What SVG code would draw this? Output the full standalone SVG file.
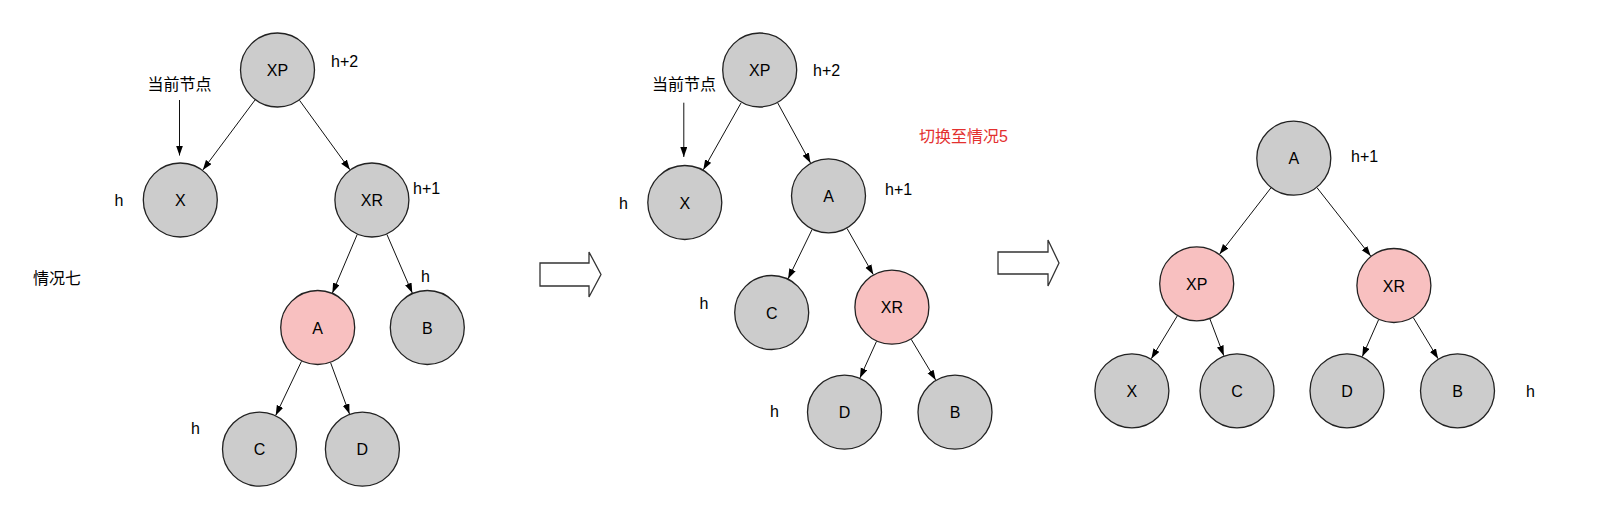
<svg xmlns="http://www.w3.org/2000/svg" width="1620" height="518" viewBox="0 0 1620 518">
<style>
  .n circle { stroke: #222; stroke-width: 1.3; }
  .g circle { fill: #cccccc; }
  .p circle { fill: #f8c0c0; }
  text { font-family: "Liberation Sans", Arial, "Noto Sans CJK SC", sans-serif; font-size: 16px; fill: #000; }
  .n text { text-anchor: middle; }
  .c { text-anchor: middle; }
  .red { fill: #e3302f; }
  .e line { stroke: #111; stroke-width: 1; fill: none; marker-end: url(#ah); }
  .big { fill: #fff; stroke: #333; stroke-width: 1.3; stroke-linejoin: miter; }
</style>
<defs>
  <marker id="ah" markerUnits="userSpaceOnUse" markerWidth="11" markerHeight="8" refX="10" refY="3.5" orient="auto">
    <path d="M0,0 L10,3.5 L0,7 z" fill="#000"/>
  </marker>
</defs>
<rect width="1620" height="518" fill="#fff"/>

<g id="connectors" class="e">
  <line x1="255" y1="100" x2="202.8" y2="170"/>
  <line x1="299.5" y1="100.3" x2="349.9" y2="169.7"/>
  <line x1="357.2" y1="234.5" x2="332.4" y2="293"/>
  <line x1="386.9" y1="234.4" x2="412.3" y2="293.1"/>
  <line x1="301.5" y1="361.3" x2="275.7" y2="415.4"/>
  <line x1="330.6" y1="362.7" x2="349.5" y2="414"/>
  <line x1="179.5" y1="100" x2="179.5" y2="155.5"/>

  <line x1="741.2" y1="102.7" x2="703.3" y2="169.8"/>
  <line x1="777.7" y1="102.9" x2="810.5" y2="162.9"/>
  <line x1="812.1" y1="229.5" x2="788.1" y2="278.8"/>
  <line x1="847" y1="228.4" x2="873.3" y2="274.6"/>
  <line x1="876.5" y1="341.4" x2="859.9" y2="378"/>
  <line x1="911.2" y1="339.3" x2="935.7" y2="380.1"/>
  <line x1="683.8" y1="102.7" x2="683.8" y2="157"/>

  <line x1="1270.9" y1="187.9" x2="1219.6" y2="254.1"/>
  <line x1="1317" y1="187.7" x2="1370.7" y2="256"/>
  <line x1="1177.3" y1="315.9" x2="1151.3" y2="358.7"/>
  <line x1="1209.9" y1="318.9" x2="1223.8" y2="355.7"/>
  <line x1="1378.6" y1="319.7" x2="1362.3" y2="356.6"/>
  <line x1="1413.3" y1="317.6" x2="1438.1" y2="358.7"/>
</g>

<g id="bigarrow1"><polygon class="big" points="540,263 589,263 589,252 601,274.5 589,297 589,286 540,286"/></g>
<g id="bigarrow2"><polygon class="big" points="998,252 1048,252 1048,240 1059,263 1048,286 1048,274 998,274"/></g>

<!-- Tree 1 -->
<g id="t1-XP" class="n g"><circle cx="277.5" cy="70" r="37"/><text x="277.5" y="76">XP</text></g>
<g id="t1-X" class="n g"><circle cx="180.3" cy="200" r="37"/><text x="180.3" y="206">X</text></g>
<g id="t1-XR" class="n g"><circle cx="371.9" cy="200" r="37"/><text x="371.9" y="206">XR</text></g>
<g id="t1-A" class="n p"><circle cx="317.7" cy="327.5" r="37"/><text x="317.7" y="333.5">A</text></g>
<g id="t1-B" class="n g"><circle cx="427.3" cy="327.5" r="37"/><text x="427.3" y="333.5">B</text></g>
<g id="t1-C" class="n g"><circle cx="259.5" cy="449.2" r="37"/><text x="259.5" y="455.2">C</text></g>
<g id="t1-D" class="n g"><circle cx="362.4" cy="449.2" r="37"/><text x="362.4" y="455.2">D</text></g>
<g id="t1-labels">
  <text x="331" y="67">h+2</text>
  <text class="c" x="179.5" y="90">当前节点</text>
  <text class="c" x="119" y="206">h</text>
  <text x="413" y="194">h+1</text>
  <text x="33" y="284">情况七</text>
  <text class="c" x="425.5" y="281.5">h</text>
  <text class="c" x="195.5" y="434">h</text>
</g>

<!-- Tree 2 -->
<g id="t2-XP" class="n g"><circle cx="759.7" cy="70" r="37"/><text x="759.7" y="76">XP</text></g>
<g id="t2-X" class="n g"><circle cx="684.8" cy="202.5" r="37"/><text x="684.8" y="208.5">X</text></g>
<g id="t2-A" class="n g"><circle cx="828.5" cy="195.8" r="37"/><text x="828.5" y="201.8">A</text></g>
<g id="t2-C" class="n g"><circle cx="771.7" cy="312.5" r="37"/><text x="771.7" y="318.5">C</text></g>
<g id="t2-XR" class="n p"><circle cx="891.9" cy="307.2" r="37"/><text x="891.9" y="313.2">XR</text></g>
<g id="t2-D" class="n g"><circle cx="844.5" cy="412.2" r="37"/><text x="844.5" y="418.2">D</text></g>
<g id="t2-B" class="n g"><circle cx="955" cy="412.2" r="37"/><text x="955" y="418.2">B</text></g>
<g id="t2-labels">
  <text x="813" y="76">h+2</text>
  <text class="c" x="684" y="90">当前节点</text>
  <text class="red" x="919" y="142">切换至情况5</text>
  <text class="c" x="623.5" y="209">h</text>
  <text x="885" y="195">h+1</text>
  <text class="c" x="704" y="309">h</text>
  <text class="c" x="774.5" y="417">h</text>
</g>

<!-- Tree 3 -->
<g id="t3-A" class="n g"><circle cx="1293.8" cy="158.2" r="37"/><text x="1293.8" y="164.2">A</text></g>
<g id="t3-XP" class="n p"><circle cx="1196.7" cy="283.8" r="37"/><text x="1196.7" y="289.8">XP</text></g>
<g id="t3-XR" class="n p"><circle cx="1393.9" cy="285.5" r="37"/><text x="1393.9" y="291.5">XR</text></g>
<g id="t3-X" class="n g"><circle cx="1131.9" cy="390.8" r="37"/><text x="1131.9" y="396.8">X</text></g>
<g id="t3-C" class="n g"><circle cx="1237" cy="390.8" r="37"/><text x="1237" y="396.8">C</text></g>
<g id="t3-D" class="n g"><circle cx="1347" cy="390.8" r="37"/><text x="1347" y="396.8">D</text></g>
<g id="t3-B" class="n g"><circle cx="1457.5" cy="390.8" r="37"/><text x="1457.5" y="396.8">B</text></g>
<g id="t3-labels">
  <text x="1351" y="162">h+1</text>
  <text class="c" x="1530.5" y="397">h</text>
</g>
</svg>
